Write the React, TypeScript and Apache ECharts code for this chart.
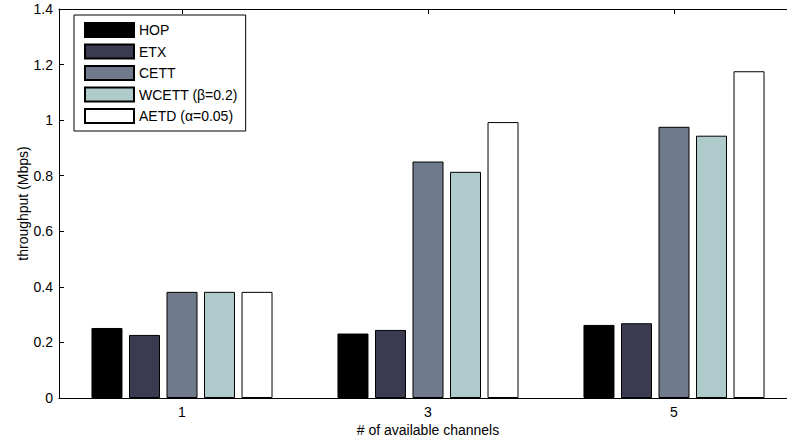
import React, { useEffect, useRef } from "react";
import * as echarts from "echarts";

const categories = ["1", "3", "5"];
const seriesNames = ["HOP", "ETX", "CETT", "WCETT (β=0.2)", "AETD (α=0.05)"];
const hop = [0.252, 0.232, 0.263];
const etx = [0.227, 0.245, 0.269];
const cett = [0.382, 0.851, 0.976];
const wcett = [0.382, 0.814, 0.944];
const aetd = [0.382, 0.993, 1.176];
const seriesValues = [hop, etx, cett, wcett, aetd];
const colors = ["#000000", "#3a3b50", "#6f7b8d", "#aecaca", "#ffffff"];

const FONT = "'Liberation Sans', Arial, Helvetica, sans-serif";

export default function App() {
  const ref = useRef<HTMLDivElement>(null);
  useEffect(() => {
    if (!ref.current) return;
    const chart = echarts.init(ref.current, null, { renderer: "svg" });
    chart.setOption({
      animation: false,
      backgroundColor: "#ffffff",
      textStyle: { fontFamily: FONT },
      grid: { left: 59, top: 9, width: 738, height: 389, containLabel: false, outerBoundsMode: "none" },
      legend: {
        orient: "vertical",
        left: 74,
        top: 15,
        padding: [7, 8, 7, 10],
        itemWidth: 49,
        itemHeight: 14,
        itemGap: 5.5,
        backgroundColor: "#ffffff",
        borderColor: "#000000",
        borderWidth: 1,
        icon: "rect",
        textStyle: { fontFamily: FONT, fontSize: 14, color: "#000" },
        data: seriesNames,
      },
      xAxis: [
        {
          type: "category",
          data: categories,
          position: "bottom",
          name: "# of available channels",
          nameLocation: "middle",
          nameGap: 25,
          nameMoveOverlap: false,
          nameTextStyle: { fontFamily: FONT, fontSize: 14, color: "#000" },
          axisLine: { lineStyle: { color: "#000", width: 1 } },
          axisTick: { show: true, inside: true, alignWithLabel: true, length: 5, lineStyle: { color: "#000" } },
          axisLabel: { fontFamily: FONT, fontSize: 14, color: "#000", margin: 7 },
          splitLine: { show: false },
        },
        {
          type: "category",
          data: categories,
          position: "top",
          axisLine: { lineStyle: { color: "#000", width: 1 } },
          axisTick: { show: true, inside: true, alignWithLabel: true, length: 5, lineStyle: { color: "#000" } },
          axisLabel: { show: false },
          splitLine: { show: false },
        },
      ],
      yAxis: {
        type: "value",
        min: 0,
        max: 1.4,
        interval: 0.2,
        name: "throughput (Mbps)",
        nameLocation: "middle",
        nameGap: 29,
        nameMoveOverlap: false,
        nameTextStyle: { fontFamily: FONT, fontSize: 14, color: "#000" },
        axisLine: { show: true, lineStyle: { color: "#000", width: 1 } },
        axisTick: { show: true, inside: true, length: 5, lineStyle: { color: "#000" } },
        axisLabel: { fontFamily: FONT, fontSize: 14, color: "#000", margin: 6 },
        splitLine: { show: false },
      },
      series: seriesNames.map((name, i) => ({
        name,
        type: "bar",
        xAxisIndex: 0,
        data: seriesValues[i],
        barWidth: 31,
        barGap: "21%",
        itemStyle: { color: colors[i], borderColor: "#000", borderWidth: 1 },
        emphasis: { disabled: true },
      })),
    });
    return () => chart.dispose();
  }, []);
  return (
    <div
      ref={ref}
      style={{ position: "fixed", left: 0, top: 0, width: 787, height: 442 }}
    />
  );
}
